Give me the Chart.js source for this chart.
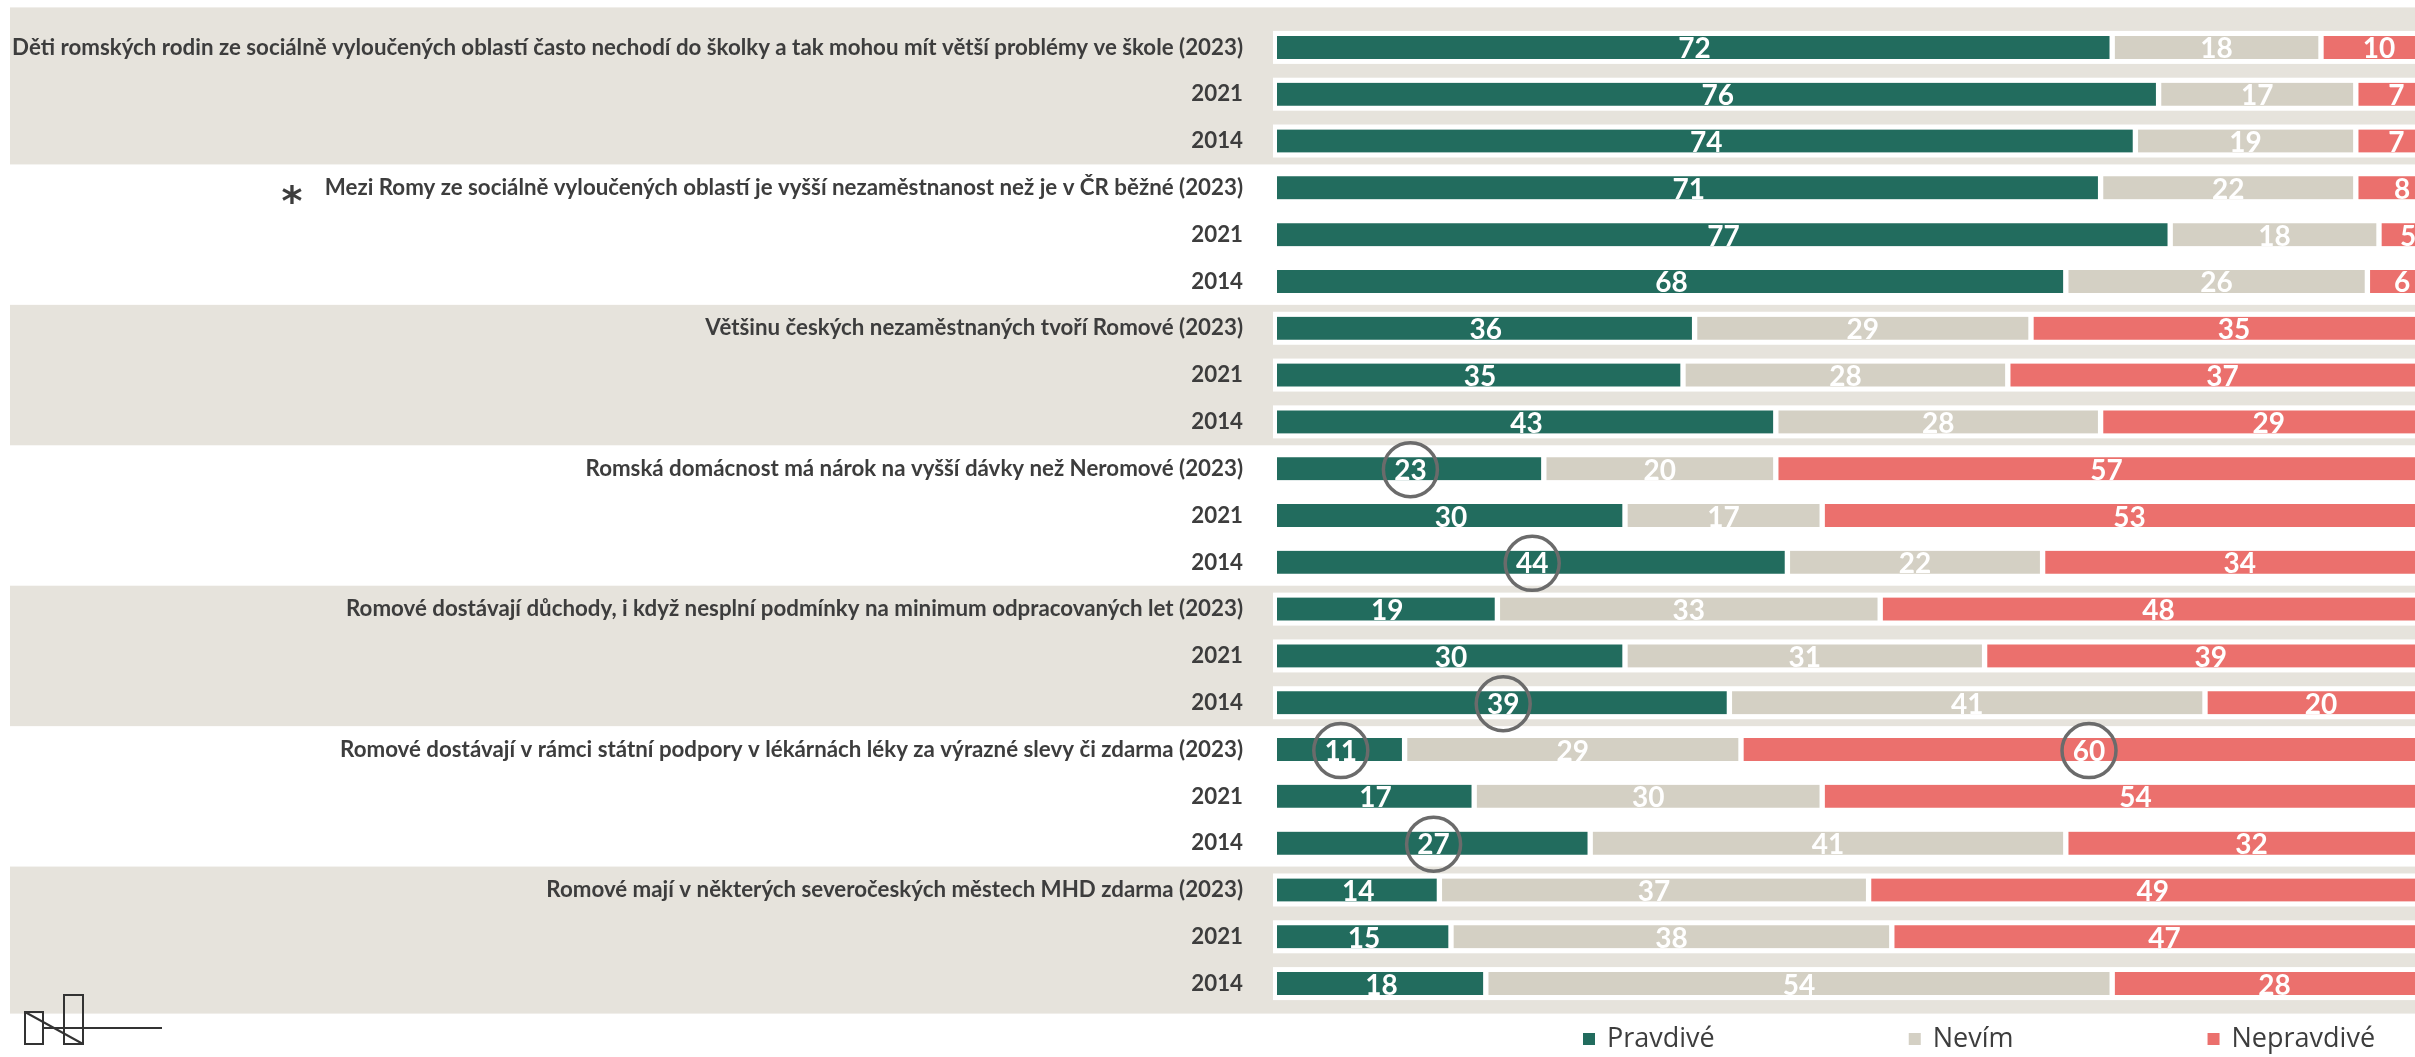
<!DOCTYPE html>
<html>
<head>
<meta charset="utf-8">
<script src="https://cdn.jsdelivr.net/npm/chart.js@4/dist/chart.umd.min.js"></script>
<style>
  html, body { margin: 0; padding: 0; overflow: hidden; background: #fff; }
  canvas { display: block; }
</style>
</head>
<body>
<canvas id="chart" width="2440" height="1057"></canvas>
<script>
// statements (each has 2023, 2021, 2014 rows)
const questions = [
    'Děti romských rodin ze sociálně vyloučených oblastí často nechodí do školky a tak mohou mít větší problémy ve škole',
    'Mezi Romy ze sociálně vyloučených oblastí je vyšší nezaměstnanost než je v ČR běžné',
    'Většinu českých nezaměstnaných tvoří Romové',
    'Romská domácnost má nárok na vyšší dávky než Neromové',
    'Romové dostávají důchody, i když nesplní podmínky na minimum odpracovaných let',
    'Romové dostávají v rámci státní podpory v lékárnách léky za výrazné slevy či zdarma',
    'Romové mají v některých severočeských městech MHD zdarma'
];
const years = ['2023', '2021', '2014'];

const pravdive   = [72, 76, 74, 71, 77, 68, 36, 35, 43, 23, 30, 44, 19, 30, 39, 11, 17, 27, 14, 15, 18];
const nevim      = [18, 17, 19, 22, 18, 26, 29, 28, 28, 20, 17, 22, 33, 31, 41, 29, 30, 41, 37, 38, 54];
const nepravdive = [10,  7,  7,  8,  5,  6, 35, 37, 29, 57, 53, 34, 48, 39, 20, 60, 54, 32, 49, 47, 28];

// [row, dataset] of circled values
const circled = [[9, 0], [11, 0], [14, 0], [15, 0], [15, 2], [17, 0]];
// statement that carries the asterisk
const starred = 1;

const labels = [];
questions.forEach(q => {
    years.forEach((yr, i) => labels.push(i === 0 ? q + ' (' + yr + ')' : yr));
});

const BEIGE = '#E6E3DC';
const TEXT = '#3d3d3d';
const FONT = 'Lato, "Open Sans", sans-serif';

// background bands + white strips behind the bars
const bands = {
    id: 'bands',
    beforeDraw(chart) {
        const { ctx, chartArea, scales: { y } } = chart;
        const n = labels.length;
        const step = y.getPixelForValue(1) - y.getPixelForValue(0);
        ctx.save();
        ctx.fillStyle = '#fff';
        ctx.fillRect(0, 0, chart.width, chart.height);
        for (let g = 0; g < questions.length; g += 2) {
            const first = g * 3, last = g * 3 + 2;
            let top = y.getPixelForValue(first) - step / 2;
            let bottom = y.getPixelForValue(last) + step / 2;
            if (first === 0) top = y.getPixelForValue(0) - 40;
            if (last === n - 1) bottom = y.getPixelForValue(last) + 30;
            ctx.fillStyle = BEIGE;
            ctx.fillRect(10, top, chart.width, bottom - top);
            ctx.fillStyle = '#fff';
            for (let r = first; r <= last; r++) {
                const c = y.getPixelForValue(r);
                ctx.fillRect(chartArea.left - 4, c - 16.5, chart.width, 33);
            }
        }
        ctx.restore();
    }
};

// value labels, circles, asterisk, legend, logo
const extras = {
    id: 'extras',
    afterDatasetsDraw(chart) {
        const { ctx, scales: { y } } = chart;
        ctx.save();
        ctx.font = 'bold 28px ' + FONT;
        ctx.fillStyle = '#fff';
        ctx.textAlign = 'center';
        ctx.textBaseline = 'middle';
        chart.data.datasets.forEach((ds, di) => {
            chart.getDatasetMeta(di).data.forEach((el, i) => {
                const p = el.getProps(['x', 'y', 'base'], true);
                ctx.fillText(ds.data[i], (p.x + p.base) / 2, p.y + 2);
            });
        });

        ctx.strokeStyle = '#6b6b6b';
        ctx.lineWidth = 3.5;
        circled.forEach(([row, di]) => {
            const p = chart.getDatasetMeta(di).data[row].getProps(['x', 'y', 'base'], true);
            ctx.beginPath();
            ctx.arc((p.x + p.base) / 2, p.y + 1, 27, 0, Math.PI * 2);
            ctx.stroke();
        });

        // asterisk
        ctx.fillStyle = TEXT;
        ctx.font = 'bold 40px "DejaVu Sans"';
        ctx.textBaseline = 'alphabetic';
        ctx.fillText('*', 292, y.getPixelForValue(starred * 3) + 27);

        // legend
        ctx.font = '27px "Open Sans"';
        ctx.textAlign = 'left';
        ctx.textBaseline = 'middle';
        let lx = 1583;
        const ly = 1039;
        chart.data.datasets.forEach(ds => {
            ctx.fillStyle = ds.backgroundColor;
            ctx.fillRect(lx, ly - 6, 12, 12);
            ctx.fillStyle = TEXT;
            ctx.fillText(ds.label, lx + 24, ly);
            lx += 24 + ctx.measureText(ds.label).width + 194;
        });

        // logo
        ctx.strokeStyle = '#333';
        ctx.lineWidth = 2;
        ctx.strokeRect(25, 1012, 18, 32);
        ctx.strokeRect(64, 995, 19, 49);
        ctx.beginPath();
        ctx.moveTo(25, 1012);
        ctx.lineTo(83, 1044);
        ctx.moveTo(43, 1028);
        ctx.lineTo(162, 1028);
        ctx.stroke();
        ctx.restore();
    }
};

const side = { left: 3, right: 3, top: 0, bottom: 0 };

new Chart(document.getElementById('chart'), {
    type: 'bar',
    data: {
        labels: labels,
        datasets: [
            { label: 'Pravdivé', data: pravdive, backgroundColor: '#226C5E',
              borderWidth: { left: 0, right: 3, top: 0, bottom: 0 } },
            { label: 'Nevím', data: nevim, backgroundColor: '#D4D0C4', borderWidth: side },
            { label: 'Nepravdivé', data: nepravdive, backgroundColor: '#EB706D', borderWidth: side }
        ]
    },
    options: {
        indexAxis: 'y',
        responsive: false,
        animation: false,
        events: [],
        layout: { padding: { left: 0, right: 3, top: 24, bottom: 50 } },
        datasets: {
            bar: { barThickness: 23, borderColor: '#fff', borderSkipped: false }
        },
        plugins: {
            legend: { display: false },
            tooltip: { enabled: false }
        },
        scales: {
            x: { stacked: true, min: 0, max: 100, display: false },
            y: {
                stacked: true,
                grid: { display: false },
                border: { display: false },
                afterFit(scale) {
                    scale.width = 1277;
                    scale.paddingTop = 0;
                    scale.paddingBottom = 0;
                },
                ticks: {
                    autoSkip: false,
                    padding: 26,
                    color: TEXT,
                    font: { family: FONT, size: 22.3, weight: 'bold' }
                }
            }
        }
    },
    plugins: [bands, extras]
});
</script>
</body>
</html>
